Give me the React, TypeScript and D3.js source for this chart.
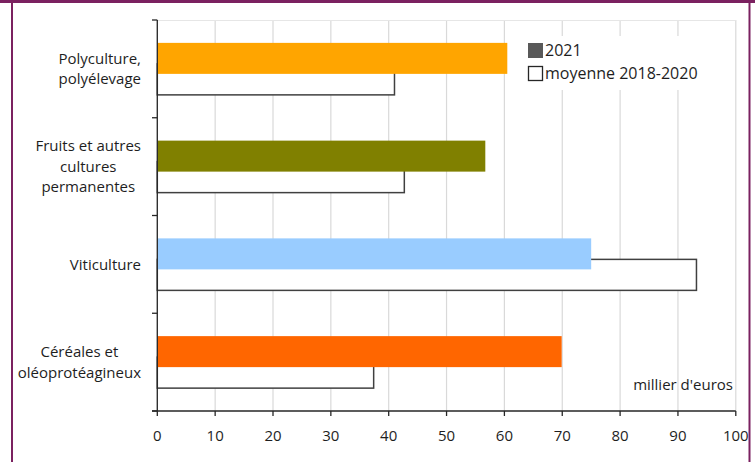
import React from "react";
import * as d3 from "d3";

const categories: string[][] = [
  ["Polyculture,", "polyélevage"],
  ["Fruits et autres", "cultures", "permanentes"],
  ["Viticulture"],
  ["Céréales et", "oléoprotéagineux"],
];
const values2021 = [60.5, 56.7, 75.0, 69.9];
const valuesAvg = [41.0, 42.7, 93.2, 37.4];
const colors2021 = ["#FFA500", "#808000", "#99CCFF", "#FF6600"];
const xTicks = [0, 10, 20, 30, 40, 50, 60, 70, 80, 90, 100];
const legendLabels = ["2021", "moyenne 2018-2020"];
const unitLabel = "millier d'euros";

const W = 755;
const H = 462;
const FONT = "'Open Sans', sans-serif";
const FS = 15;
const TXT = "#1e1e1e";

function measure(s: string): number {
  const c = document.createElement("canvas").getContext("2d");
  if (!c) return s.length * 8;
  c.font = `${FS}px 'Open Sans'`;
  return c.measureText(s).width;
}

export default function App() {
  const x = d3.scaleLinear().domain([0, 100]).range([157.3, 735.8]);
  const y = d3
    .scaleBand<number>()
    .domain(categories.map((_, i) => i))
    .range([20, 411])
    .paddingInner(0)
    .paddingOuter(0);
  const bw = y.bandwidth();
  const barH = 31;
  const off2021 = -26;
  const offAvg = -5;
  const labelRight = 141;
  const lineH = 20.5;

  return (
    <svg
      width={W}
      height={H}
      style={{ position: "absolute", left: 0, top: 0, background: "#fff" }}
      fontFamily={FONT}
    >
      {/* frame */}
      <line x1={12} x2={12} y1={0} y2={H} stroke="#7b2160" strokeWidth={2} />
      <line x1={749.5} x2={749.5} y1={0} y2={H} stroke="#7b2160" strokeWidth={2} />
      <line x1={0} x2={W} y1={1.5} y2={1.5} stroke="#7b2160" strokeWidth={3} />

      {/* gridlines */}
      {xTicks.map((t) => (
        <line
          key={"g" + t}
          x1={x(t)}
          x2={x(t)}
          y1={20}
          y2={411}
          stroke="#d9d9d9"
          strokeWidth={1.2}
        />
      ))}
      <line x1={x(0)} x2={x(100)} y1={20.5} y2={20.5} stroke="#e6e6e6" strokeWidth={1} />

      {/* bars */}
      {categories.map((_, i) => {
        const c = (y(i) as number) + bw / 2;
        return (
          <g key={"b" + i}>
            <rect
              x={x(0)}
              y={c + offAvg}
              width={x(valuesAvg[i]) - x(0)}
              height={barH}
              fill="#fff"
              stroke="#404040"
              strokeWidth={1.5}
            />
            <rect
              x={x(0)}
              y={c + off2021}
              width={x(values2021[i]) - x(0)}
              height={barH}
              fill={colors2021[i]}
            />
          </g>
        );
      })}

      {/* left axis */}
      <line x1={x(0)} x2={x(0)} y1={20} y2={411} stroke="#262626" strokeWidth={1.3} />
      {d3.range(categories.length + 1).map((k) => {
        const yy = 20 + k * bw;
        return (
          <line key={"lt" + k} x1={152} x2={x(0)} y1={yy} y2={yy} stroke="#262626" strokeWidth={1.3} />
        );
      })}
      {/* bottom axis */}
      <line x1={152} x2={x(100)} y1={411} y2={411} stroke="#262626" strokeWidth={1.3} />
      {xTicks.map((t) => (
        <g key={"t" + t}>
          <line x1={x(t)} x2={x(t)} y1={411} y2={416} stroke="#262626" strokeWidth={1.3} />
          <text
            x={x(t)}
            y={436}
            dy="0.35em"
            textAnchor="middle"
            fontSize={FS}
            fill={TXT}
          >
            {t}
          </text>
        </g>
      ))}

      {/* category labels */}
      {categories.map((lines, i) => {
        const c = (y(i) as number) + bw / 2;
        const maxW = Math.max(...lines.map(measure));
        const cx = labelRight - maxW / 2;
        const top = c - ((lines.length - 1) * lineH) / 2;
        return (
          <g key={"l" + i}>
            {lines.map((s, j) => (
              <text
                key={j}
                x={cx}
                y={top + j * lineH}
                dy="0.35em"
                textAnchor="middle"
                fontSize={FS}
                fill={TXT}
              >
                {s}
              </text>
            ))}
          </g>
        );
      })}

      {/* legend */}
      <rect x={520} y={36} width={188} height={54} fill="#fff" />
      <rect x={528} y={43} width={15} height={15} fill="#595959" />
      <text x={545} y={50.5} dy="0.35em" fontSize={16} fill={TXT}>
        {legendLabels[0]}
      </text>
      <rect x={528.5} y={66.5} width={14} height={14} fill="#fff" stroke="#262626" strokeWidth={1.3} />
      <text x={545} y={73.5} dy="0.35em" fontSize={16} fill={TXT}>
        {legendLabels[1]}
      </text>

      {/* unit */}
      <text x={733} y={385} dy="0.35em" textAnchor="end" fontSize={FS} fill={TXT}>
        {unitLabel}
      </text>
    </svg>
  );
}
